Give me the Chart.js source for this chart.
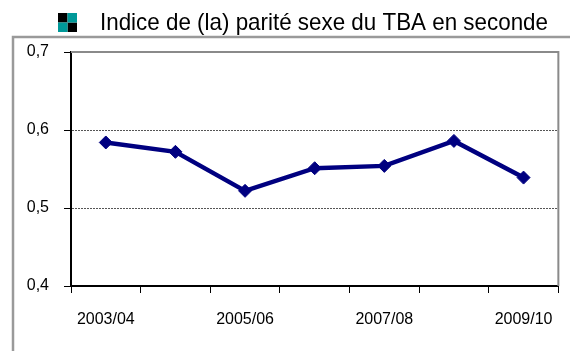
<!DOCTYPE html>
<html>
<head>
<meta charset="utf-8">
<script src="https://cdn.jsdelivr.net/npm/chart.js@4"></script>
<style>
    html, body { margin: 0; padding: 0; background: #fff; }
    #wrap { width: 570px; height: 351px; position: relative; }
</style>
</head>
<body>
<div id="wrap"><canvas id="gpiChart"></canvas></div>
<script>
// school years and gender parity index values
const years = ["2003/04", "2004/05", "2005/06", "2006/07", "2007/08", "2008/09", "2009/10"];
const parity = [0.584, 0.572, 0.522, 0.551, 0.554, 0.586, 0.539];
const yTicks = [0.4, 0.5, 0.6, 0.7];
const seriesName = "Indice de (la) parité sexe du TBA en seconde";

const FONT = "'Liberation Sans', Arial, sans-serif";

// legend key + outer frame + grey top/right plot border
const framePlugin = {
    id: "frame",
    beforeDraw(chart) {
        const ctx = chart.ctx;
        ctx.save();
        ctx.strokeStyle = "#9a9a9a";
        ctx.lineWidth = 2.5;
        ctx.strokeRect(13, 37, 600, 340);
        ctx.restore();
    },
    afterDraw(chart) {
        const ctx = chart.ctx;
        const a = chart.chartArea;
        ctx.save();
        ctx.strokeStyle = "#8a8a8a";
        ctx.lineWidth = 2;
        ctx.beginPath();
        ctx.moveTo(a.left, a.top);
        ctx.lineTo(a.right, a.top);
        ctx.lineTo(a.right, a.bottom);
        ctx.stroke();

        // checker key
        const kx = 58, ky = 13, k = 9.5;
        ctx.fillStyle = "#000";
        ctx.fillRect(kx, ky, k, k);
        ctx.fillRect(kx + k, ky + k, k, k);
        ctx.fillStyle = "#009999";
        ctx.fillRect(kx + k, ky, k, k);
        ctx.fillRect(kx, ky + k, k, k);

        // series name, slightly narrowed
        ctx.fillStyle = "#000";
        ctx.font = "24px " + FONT;
        ctx.textBaseline = "alphabetic";
        const w = ctx.measureText(seriesName).width;
        ctx.translate(100, 29.5);
        ctx.scale(448 / w, 1);
        ctx.fillText(seriesName, 0, 0);
        ctx.restore();
    }
};

const ctx = document.getElementById("gpiChart").getContext("2d");

new Chart(ctx, {
    type: "line",
    data: {
        labels: years,
        datasets: [{
            label: seriesName,
            data: parity,
            borderColor: "#000080",
            backgroundColor: "#000080",
            borderWidth: 4.5,
            pointStyle: "rectRot",
            pointRadius: 6.5,
            pointBorderWidth: 1,
            pointBackgroundColor: "#000080",
            pointBorderColor: "#000080",
            tension: 0
        }]
    },
    options: {
        responsive: true,
        maintainAspectRatio: false,
        animation: false,
        layout: {
            padding: { top: 52, left: 14, right: 7, bottom: 0 }
        },
        plugins: {
            legend: { display: false },
            tooltip: { enabled: false }
        },
        scales: {
            x: {
                offset: true,
                afterFit: s => { s.height = 65; },
                grid: {
                    offset: true,
                    drawOnChartArea: false,
                    tickLength: 7,
                    tickColor: "#000"
                },
                border: { color: "#000", width: 2 },
                ticks: {
                    autoSkip: false,
                    maxRotation: 0,
                    padding: 17,
                    color: "#000",
                    font: { family: FONT, size: 16 },
                    callback: (v, i) => (i % 2 === 0 ? years[i] : "")
                }
            },
            y: {
                min: yTicks[0],
                max: yTicks[yTicks.length - 1],
                afterFit: s => { s.width = 57; },
                afterBuildTicks: s => { s.ticks = yTicks.map(v => ({ value: v })); },
                grid: {
                    color: c => (c.tick.value > 0.45 && c.tick.value < 0.65 ? "#555" : "rgba(0,0,0,0)"),
                    lineWidth: 1,
                    tickLength: 7,
                    tickColor: "#000"
                },
                border: { color: "#000", width: 2, dash: [2, 1] },
                ticks: {
                    padding: 15,
                    color: "#000",
                    font: { family: FONT, size: 16 },
                    callback: v => v.toFixed(1).replace(".", ",")
                }
            }
        }
    },
    plugins: [framePlugin]
});
</script>
</body>
</html>
